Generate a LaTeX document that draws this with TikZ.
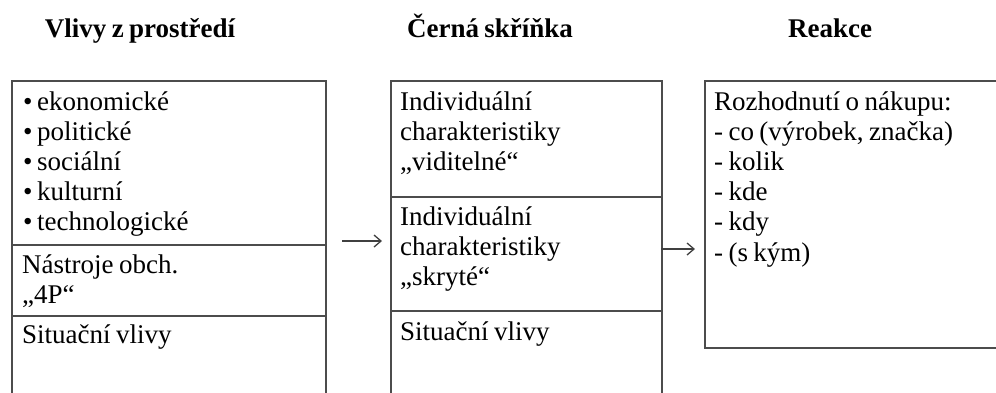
\documentclass[tikz,border=0pt]{standalone}
\usepackage{fontspec}
\setmainfont{Liberation Serif}[WordSpace=0.8]
\usetikzlibrary{arrows.meta}

\tikzset{
  cell/.style={draw=black!70, line width=1.6pt, inner sep=0pt, anchor=north west},
  txt/.style={anchor=base west, inner sep=0pt, text width=285pt, align=flush left, font=\fontsize{27}{30.2}\selectfont},
  head/.style={anchor=base, inner sep=0pt, font=\fontsize{27}{30}\selectfont\bfseries},
  arr/.style={draw=black!75, line width=1.3pt, -{Straight Barb[length=7pt, width=12pt]}}
}
\newcommand{\bul}{•\hspace{4.5pt}}

\begin{document}
\begin{tikzpicture}[x=1pt, y=-1pt]
	\clip (0,0) rectangle (996,392);
	% headings
	\node[head] (h1) at (140,37) {Vlivy z prostředí};
	\node[head] (h2) at (490,37) {Černá skříňka};
	\node[head] (h3) at (830,37) {Reakce};
	% left column
	\node[cell, minimum width=314pt, minimum height=164pt] (env1) at (11,80) {};
	\node[cell, minimum width=314pt, minimum height=71pt]  (env2) at (11,244) {};
	\node[cell, minimum width=314pt, minimum height=90pt]  (env3) at (11,315) {};
	\node[txt] (t1) at ([shift={(12pt,-30pt)}]env1.north west) {\bul ekonomické\\\bul politické\\\bul sociální\\\bul kulturní\\\bul technologické};
	\node[txt] (t2) at ([shift={(11pt,-29pt)}]env2.north west) {Nástroje obch.\\„4P“};
	\node[txt] (t3) at ([shift={(11pt,-28pt)}]env3.north west) {Situační vlivy};
	% middle column
	\node[cell, minimum width=271pt, minimum height=116pt] (blk1) at (390,80) {};
	\node[cell, minimum width=271pt, minimum height=114pt] (blk2) at (390,196) {};
	\node[cell, minimum width=271pt, minimum height=95pt]  (blk3) at (390,310) {};
	\node[txt] (t4) at ([shift={(10pt,-30pt)}]blk1.north west) {Individuální\\charakteristiky\\„viditelné“};
	\node[txt] (t5) at ([shift={(10pt,-29pt)}]blk2.north west) {Individuální\\charakteristiky\\„skryté“};
	\node[txt] (t6) at ([shift={(10pt,-30pt)}]blk3.north west) {Situační vlivy};
	% right column
	\node[cell, minimum width=310pt, minimum height=267pt] (resp) at (704,80) {};
	\node[txt] (t7) at ([shift={(10pt,-30pt)}]resp.north west) {Rozhodnutí o nákupu:\\- co (výrobek, značka)\\- kolik\\- kde\\- kdy\\- (s kým)};
	% arrows
	\coordinate (a1) at (342,241);
	\coordinate (a2) at (661,249);
	\draw[arr, shorten >=8pt] (a1) -- (a1 -| blk2.west);
	\draw[arr, shorten >=9pt] (a2) -- (a2 -| resp.west);
\end{tikzpicture}
\end{document}
